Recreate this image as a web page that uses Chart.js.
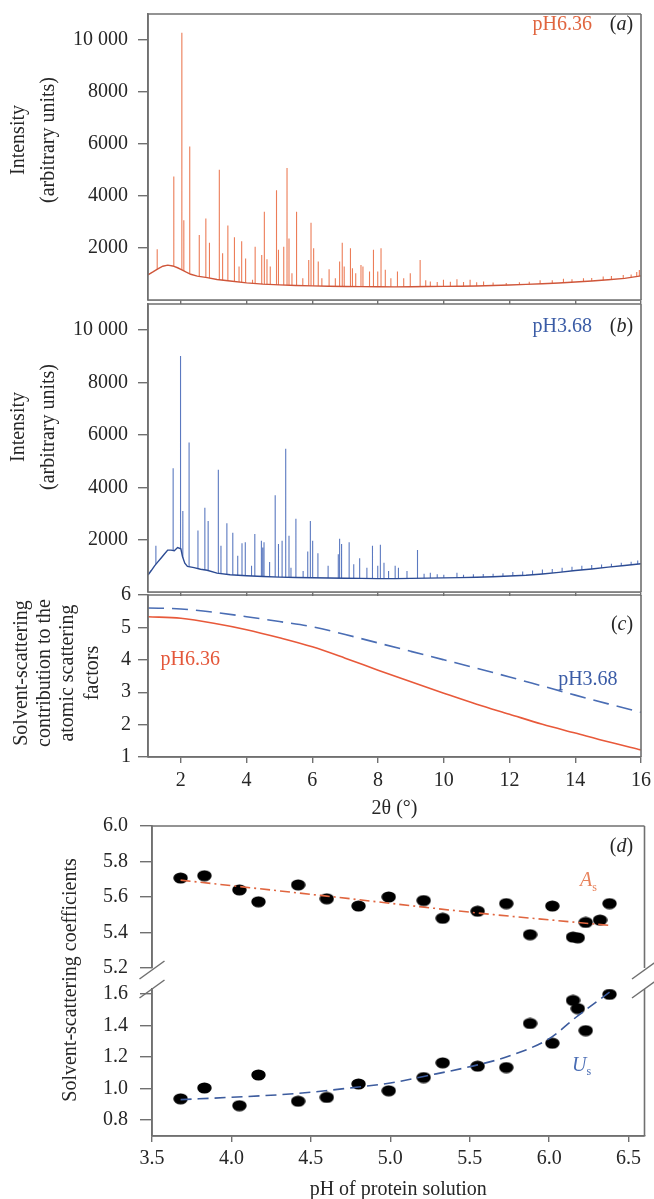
<!DOCTYPE html>
<html>
<head>
<meta charset="utf-8">
<script src="https://cdn.jsdelivr.net/npm/chart.js@4.4.1/dist/chart.umd.min.js"></script>
<style>
  body { margin: 0; background: #fff; }
  #wrap { position: relative; width: 654px; height: 1199px; overflow: hidden; background: #fff; }
  canvas { position: absolute; left: 0; }
</style>
</head>
<body>
<div id="wrap">
  <canvas id="chartA" width="654" height="304" style="top:0px"></canvas>
  <canvas id="chartB" width="654" height="296" style="top:300px"></canvas>
  <canvas id="chartC" width="654" height="249" style="top:572px"></canvas>
  <canvas id="chartD2" width="654" height="392" style="top:810px"></canvas>
  <canvas id="chartD1" width="654" height="165" style="top:810px"></canvas>
</div>
<script>
// ---- data ----

// (a) pH 6.36 powder pattern: smooth background + peak tops [2θ, intensity]
const backgroundA = [[1.0, 970], [1.15, 1080], [1.3, 1200], [1.45, 1300], [1.6, 1340], [1.75, 1310], [1.9, 1240],
  [2.0, 1180], [2.15, 1080], [2.3, 990], [2.5, 920], [2.8, 860], [3.1, 790], [3.5, 730], [4.0, 660], [4.5, 610],
  [5.0, 580], [5.5, 560], [6.0, 545], [6.5, 530], [7.0, 520], [7.5, 515], [8.0, 510], [8.5, 505], [9.0, 510],
  [9.5, 520], [10.0, 525], [10.5, 530], [11.0, 540], [11.5, 555], [12.0, 575], [12.5, 600], [13.0, 625],
  [13.5, 655], [14.0, 690], [14.5, 730], [15.0, 780], [15.5, 830], [16.0, 930]];
const peaksA = [[1.28, 1950], [1.785, 4750], [2.03, 10280], [2.09, 3070], [2.27, 5900], [2.56, 2500], [2.76, 3130],
  [2.87, 2200], [3.17, 5010], [3.27, 1800], [3.43, 2870], [3.63, 2410], [3.77, 1290], [3.85, 2260], [3.97, 1600],
  [4.18, 780], [4.26, 2050], [4.46, 1730], [4.54, 3390], [4.62, 1570], [4.72, 1290], [4.91, 4220], [4.97, 1930],
  [5.13, 2050], [5.23, 5080], [5.29, 2370], [5.38, 1030], [5.52, 3390], [5.71, 840], [5.89, 1540], [5.96, 2970],
  [6.04, 1990], [6.18, 1480], [6.29, 840], [6.51, 1180], [6.70, 840], [6.83, 1480], [6.91, 2200], [6.97, 1290],
  [7.16, 1990], [7.22, 1220], [7.32, 1030], [7.48, 1350], [7.54, 1290], [7.74, 1100], [7.86, 1930], [7.99, 1100],
  [8.09, 1990], [8.22, 1160], [8.39, 840], [8.59, 1100], [8.78, 840], [8.98, 1030], [9.28, 1540], [9.45, 760],
  [9.59, 715], [9.80, 690], [9.99, 777], [10.2, 700], [10.4, 800], [10.6, 690], [10.8, 777], [11.0, 680],
  [11.21, 715], [11.5, 670], [11.9, 650], [12.3, 680], [12.6, 700], [12.93, 760], [13.3, 760], [13.64, 820],
  [13.9, 800], [14.25, 840], [14.5, 850], [14.85, 900], [15.1, 920], [15.46, 960], [15.7, 980], [15.87, 1080],
  [15.95, 1150]];

// (b) pH 3.68 powder pattern
const backgroundB = [[1.0, 650], [1.1, 820], [1.2, 1000], [1.3, 1150], [1.4, 1300], [1.5, 1450], [1.6, 1600],
  [1.7, 1600], [1.8, 1580], [1.9, 1700], [2.0, 1650], [2.05, 1350], [2.12, 1100], [2.2, 980], [2.4, 930],
  [2.6, 870], [2.8, 830], [3.1, 720], [3.5, 660], [4.0, 620], [4.5, 590], [5.0, 570], [5.5, 555], [6.0, 545],
  [6.5, 535], [7.0, 525], [7.5, 520], [8.0, 510], [8.5, 510], [9.0, 520], [9.5, 530], [10.0, 540], [10.5, 550],
  [11.0, 565], [11.5, 585], [12.0, 610], [12.5, 640], [13.0, 690], [13.5, 750], [14.0, 820], [14.5, 880],
  [15.0, 950], [15.5, 1010], [16.0, 1080]];
const peaksB = [[1.24, 1770], [1.765, 4730], [1.99, 9010], [2.06, 3090], [2.25, 5710], [2.52, 2350], [2.73, 3220],
  [2.83, 2710], [3.14, 4670], [3.22, 1770], [3.40, 2630], [3.58, 2260], [3.73, 1380], [3.86, 1860], [3.96, 1900],
  [4.15, 1000], [4.25, 2220], [4.45, 1960], [4.49, 1700], [4.53, 1900], [4.70, 1150], [4.87, 3700], [4.97, 1830],
  [5.08, 1960], [5.19, 5470], [5.29, 2150], [5.35, 930], [5.50, 2800], [5.72, 800], [5.86, 1550], [5.94, 2710],
  [6.01, 1960], [6.17, 1480], [6.48, 1000], [6.79, 1440], [6.83, 2030], [6.89, 1830], [7.12, 1900], [7.26, 1060],
  [7.44, 1290], [7.66, 930], [7.83, 1770], [7.99, 1000], [8.07, 1800], [8.18, 1120], [8.32, 800], [8.52, 1000],
  [8.62, 930], [8.88, 800], [9.20, 1600], [9.40, 700], [9.59, 740], [9.80, 680], [10.0, 660], [10.4, 740],
  [10.6, 660], [10.9, 680], [11.2, 690], [11.5, 700], [11.8, 720], [12.1, 760], [12.4, 780], [12.7, 820],
  [13.0, 860], [13.3, 880], [13.6, 930], [13.9, 960], [14.2, 1000], [14.5, 1030], [14.8, 1050], [15.1, 1080],
  [15.4, 1120], [15.7, 1160], [15.9, 1200]];

// (c) solvent contribution vs 2θ
const thetaC = [1, 2, 3, 4, 5, 6, 7, 8, 9, 10, 11, 12, 13, 14, 15, 16];
const solventPh636 = [5.33, 5.28, 5.13, 4.93, 4.68, 4.40, 4.05, 3.68, 3.32, 2.97, 2.63, 2.32, 2.01, 1.74, 1.47, 1.22];
const solventPh368 = [5.60, 5.57, 5.47, 5.33, 5.18, 5.02, 4.78, 4.52, 4.26, 4.00, 3.74, 3.47, 3.19, 2.91, 2.64, 2.38];

// (d) coefficients vs pH
const phValues = [3.68, 3.83, 4.05, 4.17, 4.42, 4.60, 4.80, 4.99, 5.21, 5.33, 5.55, 5.73, 5.88, 6.02, 6.15, 6.18, 6.23, 6.32, 6.38];
const asValues = [5.707, 5.72, 5.64, 5.573, 5.668, 5.59, 5.549, 5.60, 5.58, 5.48, 5.52, 5.563, 5.388, 5.549, 5.374, 5.37, 5.457, 5.47, 5.563];
const usValues = [0.935, 1.004, 0.892, 1.086, 0.92, 0.944, 1.029, 0.986, 1.07, 1.163, 1.142, 1.133, 1.412, 1.287, 1.558, 1.506, 1.367, null, 1.596];
const asFit = [[3.68, 5.695], [4.6, 5.605], [5.55, 5.51], [6.38, 5.44]];
const usFit = [[3.68, 0.93], [4.0, 0.945], [4.4, 0.968], [4.8, 1.01], [5.0, 1.035], [5.21, 1.077], [5.55, 1.15],
  [5.73, 1.2], [6.0, 1.316], [6.18, 1.46], [6.38, 1.61]];

// tick labels
const thetaTicks = [2, 4, 6, 8, 10, 12, 14, 16];
const intensityTicks = [2000, 4000, 6000, 8000, 10000];
const solventTicks = [1, 2, 3, 4, 5, 6];
const asTicks = [5.2, 5.4, 5.6, 5.8, 6.0];
const usTicks = [0.8, 1.0, 1.2, 1.4, 1.6];
const phTicks = [3.5, 4.0, 4.5, 5.0, 5.5, 6.0, 6.5];

// ---- styling ----
const FONT = "'Liberation Serif', 'Times New Roman', serif";
const GRAY = '#707070';
const INK = '#262626';
const ORANGE = '#e0653f';
const BLUE = '#3b5ca6';

function xy(list) { return list.map(p => ({x: p[0], y: p[1]})); }
function zip(xs, ys) { return xs.map((x, i) => ({x: x, y: ys[i]})); }
// each peak becomes a vertical stroke, the white-filled background hides its foot
function spikes(list) {
    let out = [];
    for (let p of list) {
        out.push({x: p[0], y: 0}, {x: p[0], y: p[1]}, {x: p[0], y: null});
    }
    return out;
}

function baseOptions(pad) {
    return {
        responsive: false,
        animation: false,
        events: [],
        layout: { padding: pad },
        plugins: { legend: { display: false }, tooltip: { enabled: false } },
        elements: { point: { radius: 0 }, line: { tension: 0 } }
    };
}

// labels may hang over the plot edges, so drop the extra padding the scale asks for
function noOverhang(s) {
    s.paddingTop = 0; s.paddingBottom = 0; s.paddingLeft = 0; s.paddingRight = 0;
}

function yAxis(o) {
    return {
        type: 'linear', min: o.min, max: o.max,
        afterBuildTicks: s => { s.ticks = o.ticks.map(v => ({value: v})); },
        afterFit: s => { s.width = o.width; noOverhang(s); },
        ticks: { callback: o.fmt, font: { family: FONT, size: 20 }, color: INK, padding: o.pad, autoSkip: false },
        grid: { drawOnChartArea: false, tickLength: o.tick, color: GRAY, lineWidth: 1.4 },
        border: { color: GRAY, width: 1.6 }
    };
}

function xAxis(o) {
    let ax = {
        type: 'linear', min: o.min, max: o.max, display: o.display !== false,
        afterBuildTicks: s => { s.ticks = o.ticks.map(v => ({value: v})); },
        afterFit: s => { s.height = o.height; noOverhang(s); },
        ticks: { display: !!o.fmt, font: { family: FONT, size: 20 }, color: INK, padding: o.pad || 0, maxRotation: 0, autoSkip: false },
        grid: { drawOnChartArea: false, tickLength: o.tick, color: GRAY, lineWidth: 1.4 },
        border: { color: GRAY, width: 1.6 }
    };
    if (o.fmt) ax.ticks.callback = o.fmt;
    if (o.title) ax.title = { display: true, text: o.title, font: { family: FONT, size: 20 }, color: INK, padding: 0 };
    return ax;
}

// frame lines round the plot area
function frame(sides) {
    return {
        id: 'frame',
        afterDraw(chart) {
            const ctx = chart.ctx, a = chart.chartArea;
            ctx.save();
            ctx.strokeStyle = GRAY;
            ctx.lineWidth = 1.6;
            ctx.beginPath();
            if (sides.includes('t')) { ctx.moveTo(a.left, a.top); ctx.lineTo(a.right, a.top); }
            if (sides.includes('r')) { ctx.moveTo(a.right, a.top); ctx.lineTo(a.right, a.bottom); }
            if (sides.includes('b')) { ctx.moveTo(a.left, a.bottom); ctx.lineTo(a.right, a.bottom); }
            if (sides.includes('l')) { ctx.moveTo(a.left, a.top); ctx.lineTo(a.left, a.bottom); }
            ctx.stroke();
            ctx.restore();
        }
    };
}

// text labels: data position (x,y) or canvas pixels (px,py); parts allow italic / subscript
function notes(items) {
    return {
        id: 'notes',
        afterDraw(chart) {
            const ctx = chart.ctx;
            for (let n of items) {
                let px = n.px, py = n.py;
                if (n.x !== undefined) {
                    px = chart.scales.x.getPixelForValue(n.x);
                    py = chart.scales.y.getPixelForValue(n.y);
                }
                const size = n.size || 20;
                ctx.save();
                ctx.translate(px, py);
                if (n.rot) ctx.rotate(-Math.PI / 2);
                ctx.fillStyle = n.color || INK;
                ctx.textBaseline = 'middle';
                ctx.textAlign = 'left';
                const fontOf = p => (p.it ? 'italic ' : '') + (p.sub ? Math.round(size * 0.6) : size) + 'px ' + FONT;
                const widths = n.parts.map(p => { ctx.font = fontOf(p); return ctx.measureText(p.t).width; });
                const total = widths.reduce((s, w) => s + w, 0);
                let cx = n.align === 'right' ? -total : (n.align === 'center' ? -total / 2 : 0);
                n.parts.forEach((p, i) => {
                    ctx.font = fontOf(p);
                    ctx.fillText(p.t, cx, p.sub ? size * 0.32 : 0);
                    cx += widths[i];
                });
                ctx.restore();
            }
        }
    };
}

// axis break marks for panel (d)
const breakMarks = {
    id: 'breaks',
    afterDraw(chart) {
        const ctx = chart.ctx, a = chart.chartArea;
        ctx.save();
        ctx.strokeStyle = GRAY;
        ctx.lineWidth = 1.5;
        ctx.beginPath();
        for (let x of [a.left, a.right]) {
            for (let y of [a.top - 19, a.top]) {
                ctx.moveTo(x - 12.5, y + 9);
                ctx.lineTo(x + 12.5, y - 9);
            }
        }
        ctx.stroke();
        ctx.restore();
    }
};

const intensityLabel = v => v === 10000 ? '10 000' : String(v);
const oneDecimal = v => v.toFixed(1);

function withScales(opts, scales) { opts.scales = scales; return opts; }

// ---- (a) ----
new Chart(document.getElementById('chartA'), {
    type: 'line',
    data: { datasets: [
        { data: xy(backgroundA), borderColor: '#cf563a', borderWidth: 1.4, backgroundColor: '#fff', fill: 'origin' },
        { data: spikes(peaksA), borderColor: '#ec7d58', borderWidth: 1.1 }
    ]},
    options: withScales(baseOptions({ left: 0, right: 13, top: 14, bottom: 0 }), {
        x: xAxis({ min: 1, max: 16, ticks: thetaTicks, height: 4, tick: 4 }),
        y: yAxis({ min: 0, max: 11000, ticks: intensityTicks, width: 148, tick: 10, pad: 10, fmt: intensityLabel })
    }),
    plugins: [frame('tlrb'), notes([
        { x: 14.51, y: 10580, parts: [{t: 'pH6.36'}], color: ORANGE, align: 'right' },
        { x: 15.76, y: 10580, parts: [{t: '('}, {t: 'a', it: true}, {t: ')'}], align: 'right' },
        { px: 19, py: 140, rot: true, parts: [{t: 'Intensity'}], align: 'center' },
        { px: 49, py: 140, rot: true, parts: [{t: '(arbitrary units)'}], align: 'center' }
    ])]
});

// ---- (b) ----
new Chart(document.getElementById('chartB'), {
    type: 'line',
    data: { datasets: [
        { data: xy(backgroundB), borderColor: '#2c4b93', borderWidth: 1.4, backgroundColor: '#fff', fill: 'origin' },
        { data: spikes(peaksB), borderColor: '#5b79c0', borderWidth: 1.1 }
    ]},
    options: withScales(baseOptions({ left: 0, right: 13, top: 4, bottom: 0 }), {
        x: xAxis({ min: 1, max: 16, ticks: thetaTicks, height: 4, tick: 4 }),
        y: yAxis({ min: 0, max: 11000, ticks: intensityTicks, width: 148, tick: 10, pad: 10, fmt: intensityLabel })
    }),
    plugins: [frame('tlrb'), notes([
        { x: 14.51, y: 10120, parts: [{t: 'pH3.68'}], color: BLUE, align: 'right' },
        { x: 15.76, y: 10120, parts: [{t: '('}, {t: 'b', it: true}, {t: ')'}], align: 'right' },
        { px: 19, py: 127, rot: true, parts: [{t: 'Intensity'}], align: 'center' },
        { px: 49, py: 127, rot: true, parts: [{t: '(arbitrary units)'}], align: 'center' }
    ])]
});

// ---- (c) ----
new Chart(document.getElementById('chartC'), {
    type: 'line',
    data: { datasets: [
        { data: zip(thetaC, solventPh636), borderColor: '#e8593a', borderWidth: 1.6, cubicInterpolationMode: 'monotone' },
        { data: zip(thetaC, solventPh368), borderColor: '#4a6db4', borderWidth: 1.6, borderDash: [16, 8], cubicInterpolationMode: 'monotone' }
    ]},
    options: withScales(baseOptions({ left: 0, right: 13, top: 23, bottom: 0 }), {
        x: xAxis({ min: 1, max: 16, ticks: thetaTicks, height: 64, tick: 6, pad: 6, fmt: v => String(v), title: '2θ (°)' }),
        y: yAxis({ min: 1, max: 6, ticks: solventTicks, width: 148, tick: 10, pad: 7, fmt: v => String(v) })
    }),
    plugins: [frame('tlrb'), notes([
        { x: 15.76, y: 5.07, parts: [{t: '('}, {t: 'c', it: true}, {t: ')'}], align: 'right' },
        { x: 1.38, y: 4.0, parts: [{t: 'pH6.36'}], color: '#e4573a', align: 'left' },
        { x: 13.48, y: 3.38, parts: [{t: 'pH3.68'}], color: BLUE, align: 'left' },
        { px: 22, py: 101, rot: true, parts: [{t: 'Solvent-scattering'}], align: 'center' },
        { px: 45, py: 101, rot: true, parts: [{t: 'contribution to the'}], align: 'center' },
        { px: 68, py: 101, rot: true, parts: [{t: 'atomic scattering'}], align: 'center' },
        { px: 93, py: 101, rot: true, parts: [{t: 'factors'}], align: 'center' }
    ])]
});

// ---- (d) ellipse marker ----
const dot = document.createElement('canvas');
dot.width = 15; dot.height = 12;
const dctx = dot.getContext('2d');
dctx.fillStyle = '#000';
dctx.beginPath();
dctx.ellipse(7.5, 6, 7.2, 5.5, 0, 0, Math.PI * 2);
dctx.fill();

// ---- (d) lower part: Us ----
new Chart(document.getElementById('chartD2'), {
    type: 'line',
    data: { datasets: [
        { data: xy(usFit), borderColor: '#3d5c9e', borderWidth: 1.6, borderDash: [11, 6], cubicInterpolationMode: 'monotone' },
        { data: zip(phValues, usValues), showLine: false, pointStyle: dot, pointRadius: 6 }
    ]},
    options: withScales(baseOptions({ left: 0, right: 9.5, top: 179, bottom: 0 }), {
        x: xAxis({ min: 3.5, max: 6.6, ticks: phTicks, height: 66, tick: 6, pad: 5, fmt: oneDecimal, title: 'pH of protein solution' }),
        y: yAxis({ min: 0.70, max: 1.63, ticks: usTicks, width: 152, tick: 12, pad: 12, fmt: oneDecimal })
    }),
    plugins: [frame('lrb'), breakMarks, notes([
        { x: 6.144, y: 1.146, parts: [{t: 'U', it: true}, {t: 's', sub: true}], color: '#4a6db4', align: 'left' },
        { px: 71, py: 170, rot: true, parts: [{t: 'Solvent-scattering coefficients'}], align: 'center' }
    ])]
});

// ---- (d) upper part: As ----
new Chart(document.getElementById('chartD1'), {
    type: 'line',
    data: { datasets: [
        { data: xy(asFit), borderColor: ORANGE, borderWidth: 1.6, borderDash: [10, 4, 2, 4], cubicInterpolationMode: 'monotone' },
        { data: zip(phValues, asValues), showLine: false, pointStyle: dot, pointRadius: 6 }
    ]},
    options: withScales(baseOptions({ left: 0, right: 9.5, top: 16, bottom: 5 }), {
        x: xAxis({ min: 3.5, max: 6.6, ticks: phTicks, height: 0, tick: 0, display: false }),
        y: yAxis({ min: 5.2, max: 6.0, ticks: asTicks, width: 152, tick: 12, pad: 12, fmt: oneDecimal })
    }),
    plugins: [frame('ltr'), notes([
        { x: 6.528, y: 5.885, parts: [{t: '('}, {t: 'd', it: true}, {t: ')'}], align: 'right' },
        { x: 6.194, y: 5.69, parts: [{t: 'A', it: true}, {t: 's', sub: true}], color: '#e8835c', align: 'left' }
    ])]
});
</script>
</body>
</html>
